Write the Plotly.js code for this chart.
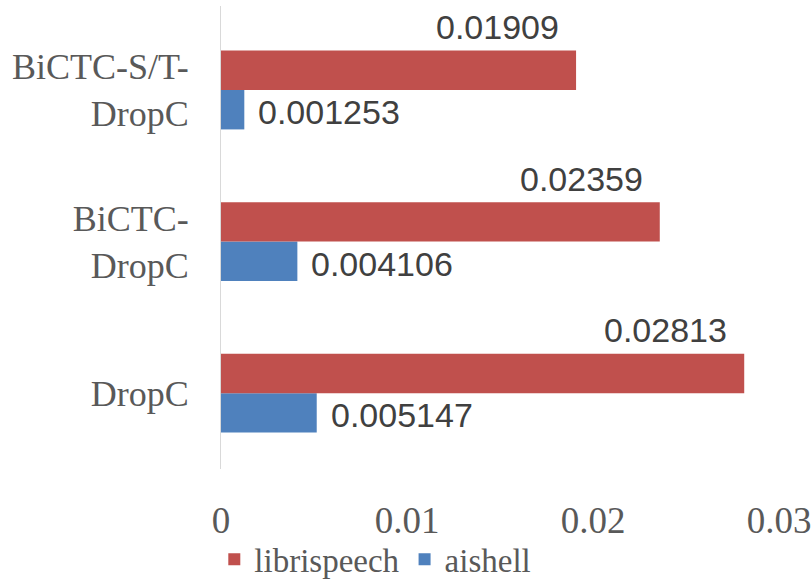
<!DOCTYPE html>
<html>
<head>
<meta charset="utf-8">
<script src="https://cdn.plot.ly/plotly-3.0.1.min.js"></script>
<style>
  html, body { margin: 0; padding: 0; background: #fff; }
  #chart { width: 812px; height: 585px; }
</style>
</head>
<body>
<div id="chart"></div>
<script>
// categories bottom to top
const categories = ['DropC', 'BiCTC-<br>DropC', 'BiCTC-S/T-<br>DropC'];
const librispeech = [0.02813, 0.02359, 0.01909];
const aishell = [0.005147, 0.004106, 0.001253];
const seriesNames = ['librispeech', 'aishell'];
const tickValues = [0, 0.01, 0.02, 0.03];
const tickLabels = ['0', '0.01', '0.02', '0.03'];

const red = '#C0504D';
const blue = '#4F81BD';

const traces = [
    {
        type: 'bar',
        orientation: 'h',
        name: seriesNames[1],
        y: categories,
        x: aishell,
        marker: { color: blue },
        hoverinfo: 'none'
    },
    {
        type: 'bar',
        orientation: 'h',
        name: seriesNames[0],
        y: categories,
        x: librispeech,
        marker: { color: red },
        hoverinfo: 'none'
    }
];

const labelFont = { family: 'Liberation Sans, Arial, sans-serif', size: 34, color: '#404040' };
const annotations = [];
categories.forEach((cat, i) => {
    // red labels sit above the bar, right-aligned near its end
    annotations.push({
        x: librispeech[i], y: cat, xref: 'x', yref: 'y',
        text: String(librispeech[i]), showarrow: false,
        xanchor: 'right', yanchor: 'middle',
        xshift: -15, yshift: 63, font: labelFont
    });
    // blue labels to the right of the bar
    annotations.push({
        x: aishell[i], y: cat, xref: 'x', yref: 'y',
        text: String(aishell[i]), showarrow: false,
        xanchor: 'left', yanchor: 'middle',
        xshift: 12, yshift: -22, font: labelFont
    });
});

const layout = {
    width: 812,
    height: 585,
    margin: { l: 221, r: 33, t: 6, b: 116, autoexpand: false },
    paper_bgcolor: '#fff',
    plot_bgcolor: '#fff',
    barmode: 'group',
    bargap: 0.48,
    bargroupgap: 0,
    showlegend: true,
    legend: {
        orientation: 'h',
        traceorder: 'reversed',
        x: -0.012, y: -0.195,
        xanchor: 'left', yanchor: 'middle',
        bgcolor: 'rgba(0,0,0,0)',
        font: { family: 'Liberation Serif, Times New Roman, serif', size: 33, color: '#595959' },
        itemwidth: 30,
        itemsizing: 'constant'
    },
    xaxis: {
        range: [0, 0.03],
        tickvals: tickValues,
        ticktext: tickLabels,
        showgrid: false,
        zeroline: false,
        showline: false,
        ticks: '',
        ticklabelstandoff: 26,
        tickfont: { family: 'Liberation Serif, Times New Roman, serif', size: 37, color: '#595959' },
        fixedrange: true
    },
    yaxis: {
        type: 'category',
        showgrid: false,
        zeroline: false,
        showline: true,
        linecolor: '#d9d9d9',
        linewidth: 1,
        ticks: '',
        ticklabelstandoff: 24,
        tickfont: { family: 'Liberation Serif, Times New Roman, serif', size: 36, color: '#595959' },
        fixedrange: true
    },
    annotations: annotations
};

Plotly.newPlot('chart', traces, layout, { staticPlot: true, displayModeBar: false });
</script>
</body>
</html>
